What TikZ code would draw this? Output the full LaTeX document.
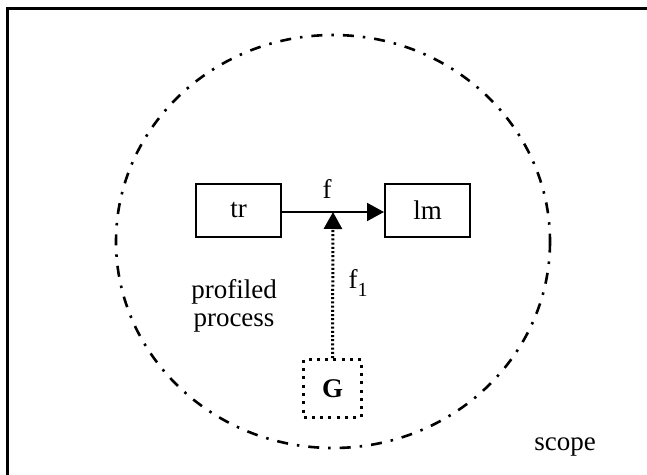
\documentclass[tikz,border=0pt]{standalone}
\usepackage{fontspec}
\setmainfont{Liberation Serif}
\usetikzlibrary{arrows.meta}
\begin{document}
\begin{tikzpicture}[x=1pt,y=-1pt,
  box/.style={draw,line width=2pt,minimum width=85pt,minimum height=53pt,inner sep=0pt,font=\fontsize{27}{31}\selectfont},
  gbox/.style={draw,line width=3pt,dash pattern=on 3pt off 5.3pt,minimum width=58pt,minimum height=58pt,inner sep=0pt,font=\fontsize{27}{31}\selectfont\bfseries},
  lbl/.style={inner sep=0pt,font=\fontsize{27}{31}\selectfont,align=center},
  arr/.style={line width=2pt,-{Triangle[length=17pt,width=18pt]}},
  dotarr/.style={line width=3pt,dash pattern=on 2pt off 2.2pt,-{Triangle[length=17pt,width=18pt]}},
  scopeline/.style={line width=2.6pt,dash pattern=on 11pt off 9pt on 2.5pt off 9pt},
  frame/.style={line width=3pt}]
\useasboundingbox (0,0) rectangle (647,474);
\fill[white] (0,0) rectangle (647,474);
\draw[frame] (7,500) -- (7,8) -- (670,8);
\draw[scopeline] (333,241.5) ellipse [x radius=217, y radius=206.5];
\node[box] (tr) at (238.5,210) {tr};
\node[box] (lm) at (427.5,210) {lm};
\node[gbox] (G) at (332.5,388.5) {G};
\coordinate (m) at (333,212);
\draw[arr] (tr.east |- m) -- (lm.west |- m);
\draw[dotarr] (G.north) -- (m);
\node[lbl] (f) at (327,189) {f};
\node[lbl] (f1) at (358,283) {f\raisebox{-0.3em}{\fontsize{20}{22}\selectfont 1}};
\node[lbl] (pp) at (234,306) {profiled\\[-3pt]process};
\node[lbl] (sc) at (565,447) {scope};
\end{tikzpicture}
\end{document}
